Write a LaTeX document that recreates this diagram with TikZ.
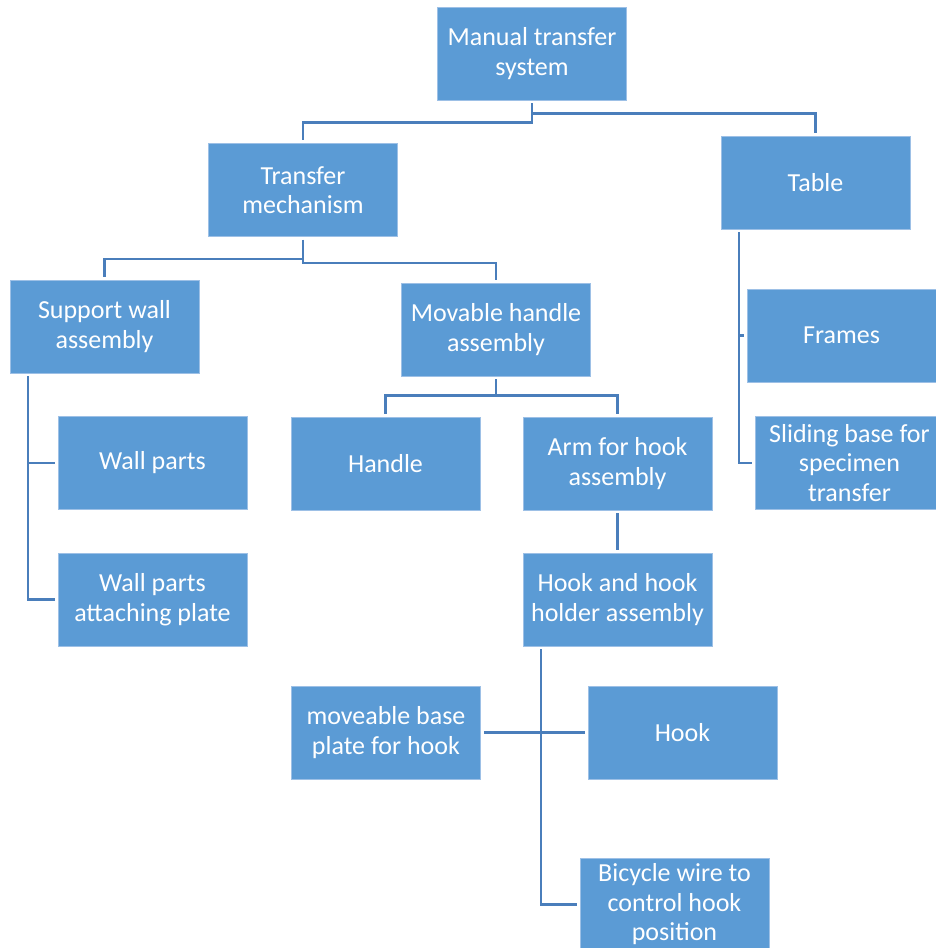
\documentclass[tikz,border=0pt]{standalone}
\usepackage{fontspec}
\setmainfont{Carlito}
\definecolor{boxfill}{HTML}{5B9BD5}
\definecolor{boxedge}{HTML}{9DC0E6}
\definecolor{linkcol}{HTML}{4A7EBB}
\tikzset{
  box/.style={rectangle, fill=boxfill, draw=boxedge, line width=0.8pt,
    minimum width=189pt, minimum height=93pt, inner sep=2pt,
    text=white, align=center, font=\fontsize{26}{29.5}\selectfont},
  link/.style={draw=linkcol, line width=2.5pt, shorten <=3pt, shorten >=3pt}
}
\begin{document}
\begin{tikzpicture}[x=1pt,y=-1pt]
\useasboundingbox (0,0) rectangle (936,948);
\clip (0,0) rectangle (936,948);
\node[box] (root) at (532,53.5) {Manual transfer\\system};
\node[box] (tm) at (303,190) {Transfer\\mechanism};
\node[box] (table) at (815.5,182.5) {Table};
\node[box] (sw) at (104.5,326.5) {Support wall\\assembly};
\node[box] (mh) at (496,329.5) {Movable handle\\assembly};
\node[box] (wp) at (152.5,463) {Wall parts};
\node[box] (wpa) at (152.5,599.5) {Wall parts\\attaching plate};
\node[box] (handle) at (385.5,463.5) {Handle};
\node[box] (arm) at (617.5,463.5) {Arm for hook\\assembly};
\node[box] (hh) at (617.5,599.5) {Hook and hook\\holder assembly};
\node[box] (frames) at (841.5,335.5) {Frames};
\node[box] (slide) at (849.5,463) {Sliding base for\\specimen\\transfer};
\node[box] (bp) at (386,732.5) {moveable base\\plate for hook};
\node[box] (hook) at (682.5,732.5) {Hook};
\node[box] (bw) at (674.5,904.5) {Bicycle wire to\\control hook\\position};
% connectors
\draw[link] (root.south) -- ++(0,22) -| (tm.north);
\draw[link, shorten <=0pt] ([yshift=-13pt]root.south) -| (table.north);
\draw[link] (tm.south) -- ++(0,22) -| (sw.north);
\draw[link] (tm.south) -- ++(0,26) -| (mh.north);
\draw[link] ([xshift=-76.5pt]sw.south) |- (wp.west);
\draw[link] ([xshift=-76.5pt]sw.south) |- (wpa.west);
\draw[link] (mh.south) -- ++(0,19) -| (handle.north);
\draw[link] (mh.south) -- ++(0,19) -| (arm.north);
\draw[link] (arm.south) -- (hh.north);
\draw[link] ([xshift=-76.5pt]hh.south) |- (bw.west);
\draw[link] (bp.east) -- (hook.west);
\draw[link] ([xshift=-76.5pt]table.south) |- (frames.west);
\draw[link] ([xshift=-76.5pt]table.south) |- (slide.west);
\end{tikzpicture}
\end{document}
